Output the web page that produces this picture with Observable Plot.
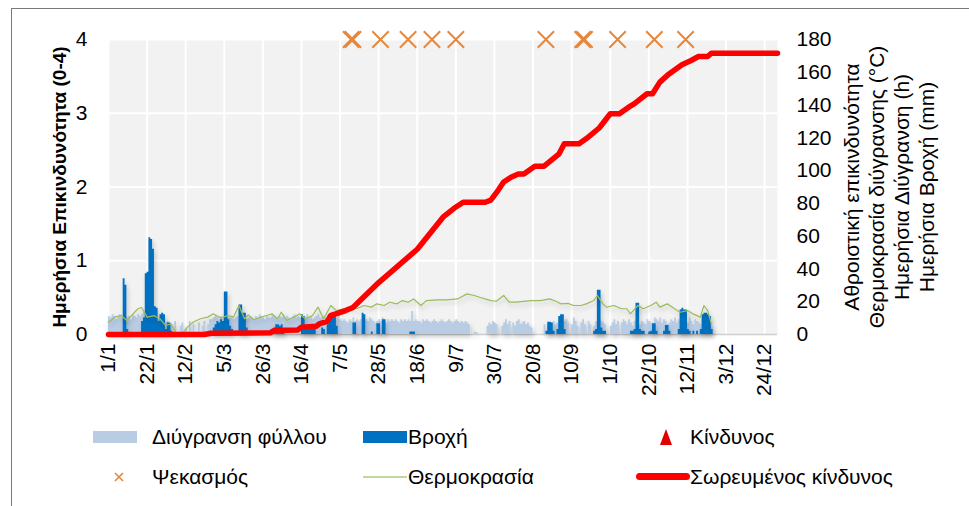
<!DOCTYPE html>
<html><head><meta charset="utf-8">
<script src="https://cdn.jsdelivr.net/npm/d3@7"></script>
<script src="https://cdn.jsdelivr.net/npm/@observablehq/plot@0.6"></script>
<style>
html,body{margin:0;padding:0;background:#fff;overflow:hidden;}
#wrap{position:relative;width:969px;height:506px;font-family:"Liberation Sans",Arial,sans-serif;color:#000;}
#border{position:absolute;left:11px;top:8px;width:1000px;height:600px;border:1.5px solid #7a7a7a;box-sizing:border-box;}
#chart{position:absolute;left:0;top:0;}
.lg{position:absolute;font-size:21px;line-height:24px;white-space:nowrap;}
.sw{position:absolute;}
</style></head>
<body><div id="wrap"><div id="border"></div><div id="chart"></div><div id="legend"></div></div>
<script>
// ---- data ----
const year = 2019;
const tickLabels = ["1/1","22/1","12/2","5/3","26/3","16/4","7/5","28/5","18/6","9/7","30/7","20/8","10/9","1/10","22/10","12/11","3/12","24/12"];
const leftTicks = [0,1,2,3,4];
const rightTicks = [0,20,40,60,80,100,120,140,160,180];
const leftMax = 4, rightMax = 180;

// daily leaf wetness hours from 1/1 (index = day of year - 1)
const leafWetHours = [
11,10,12,11,9,11,12,10,12,11, 10,11,9,12,11,10,12,11,12,14,
13,13,12,12,11,12,11,9,10,8, 9,7,8,0,6,0,8,0,0,5,
7,0,4,0,8,0,6,0,0,7, 0,5,8,0,6,9,9,10,11,10,
9,11,10,12,11,10,10,11,9,10, 11,10,12,10,11,9,10,11,10,9,
11,10,12,11,10,9,11,10,10,12, 11,10,9,11,10,12,10,11,10,9,
11,12,10,11,10,9,11,10,12,10, 11,9,10,11,12,10,10,11,10,12,
11,10,9,11,10,11,9,8,9,8, 7,9,8,10,8,9,8,9,7,8,
9,8,10,9,8,7,8,9,8,10, 8,7,9,8,9,8,9,8,7,9,
8,9,8,9,8,14,8,9,8,8, 7,9,8,9,8,7,8,9,8,7,
8,9,8,7,8,9,8,7,8,9, 8,7,8,7,8,7,6,0,0,1.5,
1,0,0,0,0,0,5,7,6,8, 7,6,0,0,5,7,9,6,8,0,
7,5,8,9,6,7,8,6,7,5, 4,0,0,0,0,0,0,6,0,5,
7,0,8,6,7,9,5,0,8,9, 7,0,6,10,8,5,0,7,9,6,
0,8,6,0,5,8,7,9,8,7, 6,0,0,5,7,9,6,8,0,7,
9,8,6,9,7,5,8,9,7,6, 8,7,6,9,8,7,6,10,9,8,
10,7,9,8,6,7,9,8,10,7, 9,8,9,8,9,7,10,8,6,9,
8,7,6,8,9,7,8,6,5];

// rain (mm): day of year index and amount
const rainDay = [8,9,10, 18,19,20,21,22,23,24,25,26,27, 28,29,30,31,32,33,34,
 55,57,58,59,60,61,62,63,64,65,66,67, 71,72,73,74,75, 90,91,92,93,94,95,
 105,106,107,108,109,110,111,112, 116,117, 119,120,121,122,123,124, 133,134, 138,139, 143,
 146,147, 149,150, 164,165,166, 238,239,240,241,242, 244,245,246,247,248,
 264,265,266,267,268,269,270, 284,285,286,287,288,289,290,291, 294,295,296,297,298,
 302,303,304,305, 310,311,312,313,314,315,316, 318,320,322,323,324,325,326,327,328];
const rainMm = [34,30,3, 8,10,37,38,59,58,52,17,16,8, 12,13,12,3,7,7,2,
 2,4,6,8,7,9,8,26,26,9,5,3, 18,18,13,13,4, 4,6,6,5,6,3,
 12,11,4,5,4,4,5,3, 4,3, 6,12,12,11,12,5, 7,7, 13,12, 1.5,
 6.5,6.5, 9,9, 1.5,1.5,1.5, 2,7.5,7.5,7,2, 3,11,12,12,3,
 2,3,27,27,4,2,2, 2,2,3,19,19,3,2,2, 1.5,2,6.5,6.5,2,
 2,5.5,5.5,2, 3,15,16,15,15,3,2, 2,2,3,12,13,13,12,11,3];

// leaf wetness temperature (°C)
const tempDay = [0,4,7,10,16,18,21,25,28,31,34,37,40,43,46,50,54,57,61,65,68,71,74,76,79,83,86,89,92,94,
 97,101,104,107,111,114,117,121,124,128,132,135,139,143,146,150,153,157,160,163,166,170,173,179,184,190,195,199,202,208,
 211,215,218,222,230,235,240,244,246,250,253,257,260,264,266,269,271,275,279,282,284,288,291,295,298,300,304,308,311,315,
 318,322,324,326,328];
const tempC = [7.5,11,11.5,8.5,15.7,16.5,10.6,11.5,9.6,5.5,6.5,0.4,0.5,4.5,7.5,9.6,10.6,12.6,10,11.6,10.6,17.7,9.6,12,9,10.6,11.6,12.6,9.6,13.6,
 8.5,10.6,12.6,9.6,11.6,16.7,9.6,17.7,14.6,15.7,16.7,15.7,17.7,16.7,18.7,17.7,19.7,18.7,20.7,19.7,21.7,17.7,20.7,21.1,21.1,21.7,24.8,23.8,22.7,20.7,
 20.3,23.8,19.7,19.7,20.7,20.7,21.7,20,18.7,19,17.7,17.7,18.7,20.7,23.8,18.7,16.7,17.7,15.7,15.7,12.6,17.7,15.7,17.7,19.7,16.7,18.7,15.7,13.6,14.6,
 12.6,10.6,17.7,14.6,6.5];

// cumulative risk
const cumDay = [0,52,56,88,90,103,105,113,115,119,121,125,129,133,147,168,182,188,193,205,208,212,215,219,223,226,232,237,245,248,256,261,267,273,278,283,286,293,296,300,305,312,317,321,326,328,364];
const cumRisk = [0,0,0.8,1,2.4,2.8,4.5,5,6.7,8,11.6,13,14.6,16.5,31.7,52,71.6,77,80.7,80.7,82,88,93,96,98,98,102.7,102.7,110,116.4,116.4,120.4,126,134.7,134.7,138.7,140.7,146.9,146.9,154,159,164.6,167.2,169.6,169.6,171.6,171.6];

// spraying dates (shown at level 4 of the daily risk axis)
const sprayDates = ["13/5","14/5","29/5","13/6","26/6","9/7","27/8","16/9","17/9","5/10","25/10","11/11"];
const sprayLevel = 4;

const leftTitle = "Ημερήσια Επικινδυνότητα (0-4)";
const rightTitle = ["Αθροιστική επικινδυνότητα","Θερμοκρασία διύγρανσης (°C)","Ημερήσια Διύγρανση (h)","Ημερήσια Βροχή (mm)"];
const legendLabels = ["Διύγρανση φύλλου","Βροχή","Κίνδυνος","Ψεκασμός","Θερμοκρασία","Σωρευμένος κίνδυνος"];

// ---- build ----
const start = new Date(Date.UTC(year,0,1));
const dayDate = i => d3.utcDay.offset(start, i);
const parseDM = s => { const [d,m] = s.split("/").map(Number); return new Date(Date.UTC(year, m-1, d)); };
const ratio = rightMax / leftMax;

const leaf = leafWetHours.map((v,i)=>({date: dayDate(i), v}));
leaf.push({date: dayDate(leafWetHours.length), v: 0});
const rainMap = new Map(rainDay.map((d,i)=>[d, rainMm[i]]));
const rain = d3.range(0, leafWetHours.length + 1).map(i => ({date: dayDate(i), v: rainMap.get(i) || 0}));
const temps = tempDay.map((d,i)=>({date: dayDate(d), v: tempC[i]}));
const cum = cumDay.map((d,i)=>({date: dayDate(d), v: cumRisk[i]}));
const sprays = sprayDates.map(s => ({date: parseDM(s), v: sprayLevel * ratio}));
const tickDates = tickLabels.map(parseDM);
const labelOf = new Map(tickDates.map((d,i)=>[+d, tickLabels[i]]));

const chart = Plot.plot({
  width: 969, height: 410,
  marginLeft: 108, marginRight: 192, marginTop: 39, marginBottom: 76,
  style: {fontFamily: "'Liberation Sans', Arial, sans-serif", fontSize: "21px", color: "#000", background: "transparent", overflow: "visible"},
  x: {type: "utc", domain: [start, new Date(Date.UTC(year,11,31))]},
  y: {domain: [0, rightMax]},
  marks: [
    Plot.frame({fill: "#f2f2f2", stroke: "none"}),
    Plot.gridX(tickDates, {stroke: "#fff", strokeOpacity: 1, strokeWidth: 2}),
    Plot.gridY(leftTicks.slice(1).map(t => t * ratio), {stroke: "#fff", strokeOpacity: 1, strokeWidth: 2}),
    Plot.ruleY([0], {stroke: "#d0d0d0", strokeWidth: 1.5}),
    Plot.area(leaf, {x1: "date", y1: 0, y2: "v", curve: "step-after", fill: "#b8cce4"}),
    Plot.area(rain, {x1: "date", y1: 0, y2: "v", curve: "step-after", fill: "#0070c0"}),
    Plot.line(temps, {x: "date", y: "v", stroke: "#9bbb59", strokeWidth: 1.2}),
    Plot.line(cum, {x: "date", y: "v", stroke: "#ff0000", strokeWidth: 5.5, strokeLinejoin: "round", strokeLinecap: "round"}),
    Plot.dot(sprays, {x: "date", y: "v", symbol: "times", r: 7.5, stroke: "#e5883d", strokeWidth: 2}),
    Plot.axisX(tickDates, {tickFormat: d => labelOf.get(+d), tickRotate: -90, tickSize: 0, tickPadding: 9, label: null}),
    Plot.axisY(leftTicks.map(t => t * ratio), {anchor: "left", tickFormat: d => d / ratio, tickSize: 0, tickPadding: 21, label: null}),
    Plot.axisY(rightTicks, {anchor: "right", tickSize: 0, tickPadding: 19, label: null}),
    Plot.text([leftTitle], {frameAnchor: "left", dx: -49, rotate: -90, textAnchor: "middle", fontWeight: "bold", fontSize: 19, fill: "#000"}),
    Plot.text([rightTitle.join("\n")], {frameAnchor: "right", dx: 111, rotate: -90, textAnchor: "middle", lineAnchor: "middle", fontSize: 21, lineHeight: 1.19, fill: "#000"})
  ]
});
document.getElementById("chart").appendChild(chart);

// drop shadows like the original
const ns = "http://www.w3.org/2000/svg";
const svg = chart.tagName.toLowerCase() === "svg" ? chart : chart.querySelector("svg");
const defs = document.createElementNS(ns, "defs");
defs.innerHTML = '<filter id="sh" x="-5%" y="-20%" width="110%" height="160%"><feDropShadow dx="1.5" dy="3" stdDeviation="2" flood-color="#000" flood-opacity="0.2"/></filter>';
svg.insertBefore(defs, svg.firstChild);
svg.querySelectorAll('g[aria-label="area"]').forEach(g => g.setAttribute("filter", "url(#sh)"));
const lines = svg.querySelectorAll('g[aria-label="line"]');
if (lines[0]) lines[0].setAttribute("filter", "url(#sh)");

// legend
const lg = document.getElementById("legend");
function add(html){ lg.insertAdjacentHTML("beforeend", html); }
const r1 = 437, r2 = 477;
add(`<div class="sw" style="left:93px;top:${r1-6}px;width:44px;height:12px;background:#b8cce4"></div>`);
add(`<div class="lg" style="left:152px;top:${r1-12}px">${legendLabels[0]}</div>`);
add(`<div class="sw" style="left:363px;top:${r1-6}px;width:44px;height:12px;background:#0070c0"></div>`);
add(`<div class="lg" style="left:408px;top:${r1-12}px">${legendLabels[1]}</div>`);
add(`<svg class="sw" style="left:659px;top:${r1-9}px" width="14" height="18"><path d="M7,1 L13,17 L1,17 Z" fill="#e00000"/></svg>`);
add(`<div class="lg" style="left:690px;top:${r1-12}px">${legendLabels[2]}</div>`);
add(`<svg class="sw" style="left:113px;top:${r2-6}px" width="12" height="12"><path d="M2,2 L10,10 M10,2 L2,10" stroke="#e5883d" stroke-width="1.6"/></svg>`);
add(`<div class="lg" style="left:152px;top:${r2-12}px">${legendLabels[3]}</div>`);
add(`<div class="sw" style="left:363px;top:${r2-1}px;width:44px;height:2px;background:#c3d69b"></div>`);
add(`<div class="lg" style="left:408px;top:${r2-12}px">${legendLabels[4]}</div>`);
add(`<div class="sw" style="left:636px;top:${r2-4}px;width:54px;height:7px;border-radius:4px;background:#ff0000"></div>`);
add(`<div class="lg" style="left:690px;top:${r2-12}px">${legendLabels[5]}</div>`);
</script></body></html>
